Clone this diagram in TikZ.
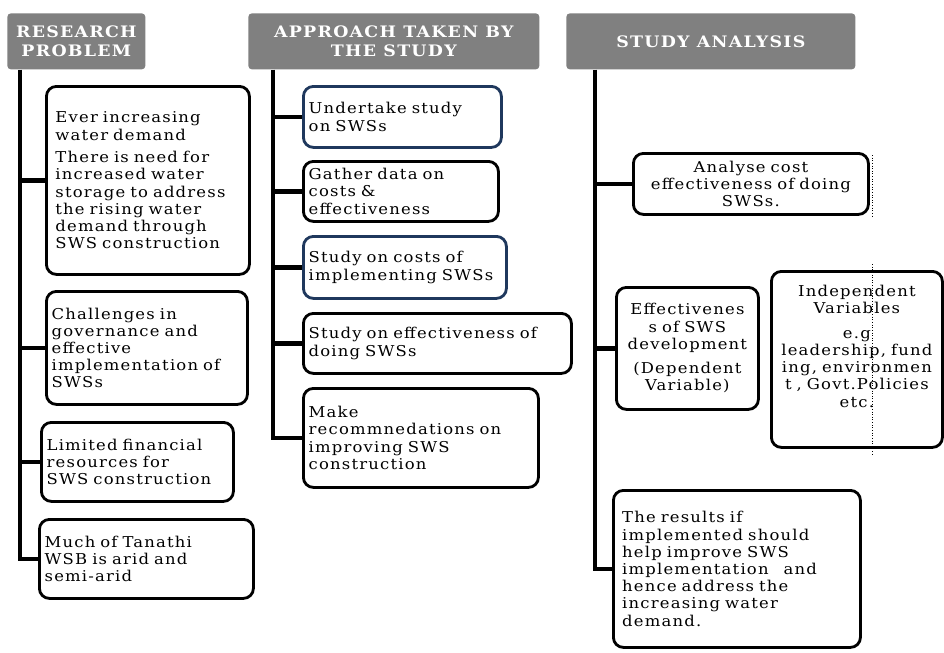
\documentclass[tikz,border=0pt]{standalone}
\usepackage{fontspec}
\setmainfont{DejaVu Serif}[FakeStretch=1.1,LetterSpace=8]
\usetikzlibrary{positioning}
\definecolor{headGray}{RGB}{128,128,128}
\definecolor{navyEdge}{RGB}{31,56,93}

\tikzset{
  header/.style={rectangle,fill=headGray,rounded corners=2pt,anchor=north west,
    align=center,text=white,font=\fontsize{9}{10.4}\selectfont\bfseries,inner sep=0pt},
  headDims/.style 2 args={minimum width=#1*0.02cm,minimum height=#2*0.02cm},
  item/.style={rectangle,draw=black,line width=1.6pt,rounded corners=0.2cm,fill=white,
    anchor=north west,align=left,font=\fontsize{8.5}{9.8}\selectfont,
    inner xsep=3pt,inner ysep=0pt},
  itemBlue/.style={item,draw=navyEdge},
  itemCentre/.style={item,align=center},
  boxDims/.style 2 args={minimum width=#1*0.02cm,minimum height=#2*0.02cm,
    text width=#1*0.02cm-6pt},
  % lines
  trunk/.style={line width=2.4pt},
  guide/.style={densely dotted,line width=0.5pt}
}

\begin{document}
\begin{tikzpicture}[x=0.02cm,y=-0.02cm]
  \useasboundingbox (0,0) rectangle (944,653);

  % Headers
  \node [header,headDims={138}{56}] (probHead) at (7,13)   {RESEARCH\\PROBLEM};
  \node [header,headDims={291}{56}] (apprHead) at (248,13) {APPROACH TAKEN BY\\THE STUDY};
  \node [header,headDims={289}{56}] (anaHead)  at (566,13) {STUDY ANALYSIS};

  % Research problem
  \node [item,boxDims={203}{188},text width=3.7cm] (demand) at (45,85)
    {Ever increasing\\water demand\\[3pt]There is need for\\increased water\\storage to address\\the rising water\\demand through\\SWS construction};
  \node [item,boxDims={201}{113}] (governance) at (45,290)
    {Challenges in\\governance and\\effective\\implementation of\\SWSs};
  \node [item,boxDims={192}{79}] (finance) at (40,421)
    {Limited financial\\resources for\\SWS construction};
  \node [item,boxDims={214}{79}] (arid) at (38,518)
    {Much of Tanathi\\WSB is arid and\\semi-arid};

  % Approach
  \node [itemBlue,boxDims={198}{61}] (undertake) at (302,85)
    {Undertake study\\on SWSs};
  \node [item,boxDims={195}{60}] (gather) at (302,160)
    {Gather data on\\costs \&\\effectiveness};
  \node [itemBlue,boxDims={203}{62}] (costs) at (302,235)
    {Study on costs of\\implementing SWSs};
  \node [item,boxDims={268}{60}] (effect) at (302,312)
    {Study on effectiveness of\\doing SWSs};
  \node [item,boxDims={235}{99}] (recommend) at (302,387)
    {Make\\recommnedations on\\improving SWS\\construction};

  % Analysis
  \node [itemCentre,boxDims={235}{61}] (costEff) at (632,152)
    {Analyse cost\\effectiveness of doing\\SWSs.};
  \node [itemCentre,boxDims={142}{122}] (depVar) at (615,286)
    {Effectivenes\\s of SWS\\development\\[4pt](Dependent\\Variable)};
  \node [itemCentre,boxDims={171}{176}] (indepVar) at (770,270)
    {Independent\\Variables\\[4pt]e.g\\leadership, fund\\ing, environmen\\t , Govt.Policies\\etc.\rule[-15pt]{0pt}{15pt}};
  \node [item,boxDims={240}{157},inner xsep=5pt] (results) at (612,489)
    {The results if\\implemented should\\help improve SWS\\implementation\ \ \ and\\hence address the\\increasing water\\demand.};

  % Trunks and branches
  \coordinate (probTrunk) at ([xshift=0.26cm]probHead.south west);
  \coordinate (apprTrunk) at ([xshift=0.5cm]apprHead.south west);
  \coordinate (anaTrunk)  at ([xshift=0.58cm]anaHead.south west);

  \draw [trunk] (probTrunk) |- (arid.west);
  \foreach \b in {demand,governance,finance}
    \draw [trunk] (probTrunk |- \b.west) -- (\b.west);

  \draw [trunk] (apprTrunk) |- (recommend.west);
  \foreach \b in {undertake,gather,costs,effect}
    \draw [trunk] (apprTrunk |- \b.west) -- (\b.west);

  \draw [trunk] (anaTrunk) |- (results.west);
  \foreach \b in {costEff,depVar}
    \draw [trunk] (anaTrunk |- \b.west) -- (\b.west);

  % dotted marks
  \draw [guide] (872,155) -- (872,217);
  \draw [guide] (872,264) -- (872,455);
\end{tikzpicture}
\end{document}
